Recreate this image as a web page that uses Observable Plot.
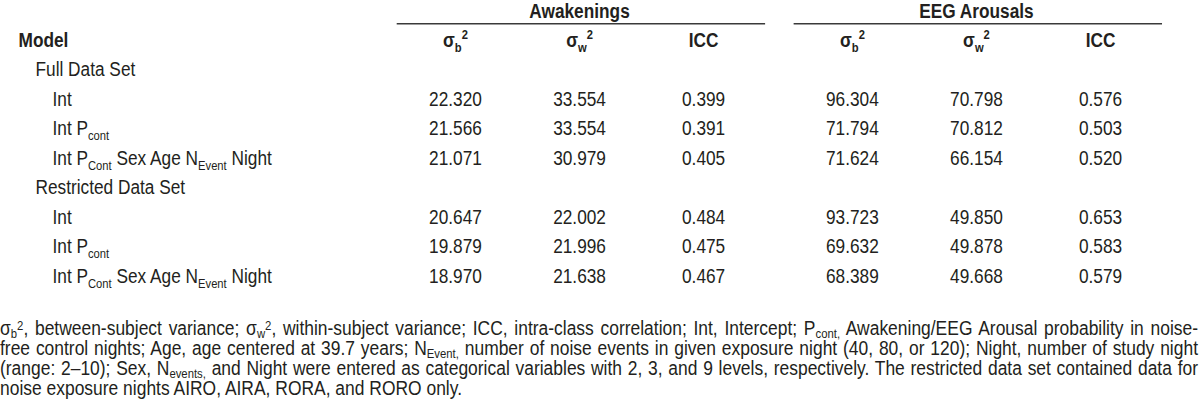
<!DOCTYPE html>
<html><head><meta charset="utf-8">
<script src="https://cdn.jsdelivr.net/npm/d3@7"></script>
<script src="https://cdn.jsdelivr.net/npm/@observablehq/plot@0.6"></script>
<style>
html,body{margin:0;padding:0;background:#fff;}
body{width:1200px;height:414px;position:relative;overflow:hidden;font-family:'Liberation Sans Narrow','Arial Narrow','Liberation Sans',Arial,sans-serif;color:#231f20;}
#chart{position:absolute;left:0;top:0;}
#note{position:absolute;left:0;top:318px;font-size:19.6px;line-height:20px;transform-origin:0 0;}
#note .ln{text-align:justify;text-align-last:justify;}
#note .ln.last{text-align-last:left;}
#note sub{font-size:65%;line-height:0;vertical-align:baseline;position:relative;top:0.2em;}
#note sup{font-size:65%;line-height:0;vertical-align:baseline;position:relative;top:-0.42em;}
</style></head><body>
<div id="chart"></div>
<div id="note"></div>
<script>
// ---- data ----
const groups = ["Awakenings", "EEG Arousals"];
const measures = ["σ_{b}^{2}", "σ_{w}^{2}", "ICC"];
const headLabel = "Model";
const sections = ["Full Data Set", "Restricted Data Set"];
const models = ["Int", "Int P_{cont}", "Int P_{Cont} Sex Age N_{Event} Night"];
const awakSigmaB = [22.320, 21.566, 21.071, 20.647, 19.879, 18.970];
const awakSigmaW = [33.554, 33.554, 30.979, 22.002, 21.996, 21.638];
const awakICC    = [0.399, 0.391, 0.405, 0.484, 0.475, 0.467];
const eegSigmaB  = [96.304, 71.794, 71.624, 93.723, 69.632, 68.389];
const eegSigmaW  = [70.798, 70.812, 66.154, 49.850, 49.878, 49.668];
const eegICC     = [0.576, 0.503, 0.520, 0.653, 0.583, 0.579];
const noteLines = [
  "σ_{b}^{2}, between-subject variance; σ_{w}^{2}, within-subject variance; ICC, intra-class correlation; Int, Intercept; P_{cont,} Awakening/EEG Arousal probability in noise-",
  "free control nights; Age, age centered at 39.7 years; N_{Event,} number of noise events in given exposure night (40, 80, or 120); Night, number of study night",
  "(range: 2–10); Sex, N_{events,} and Night were entered as categorical variables with 2, 3, and 9 levels, respectively. The restricted data set contained data for",
  "noise exposure nights AIRO, AIRA, RORA, and RORO only."
];

// ---- layout / style ----
const FONT = "'Liberation Sans Narrow','Arial Narrow','Liberation Sans',Arial,sans-serif";
const FS = 19.4;
const NARROW = 0.89;       // horizontal condensing of the sans face
const INK = "#231f20";
const GROUP_STEP = 3.2;
const NOTE_W = 1198;

const fmt = d3.format(".3f");
const series = [awakSigmaB, awakSigmaW, awakICC, eegSigmaB, eegSigmaW, eegICC];
const cells = [];
series.forEach((vals, j) => {
  const g = Math.floor(j / 3), k = j % 3;
  vals.forEach((v, i) => {
    const s = Math.floor(i / 3), m = i % 3;
    cells.push({col: g * GROUP_STEP + k, row: 2 + s * 4 + m, label: fmt(v)});
  });
});
const colHeads = [];
groups.forEach((g, gi) => measures.forEach((ms, k) => colHeads.push({col: gi * GROUP_STEP + k, row: 0, label: ms})));
const groupHeads = groups.map((g, gi) => ({col: gi * GROUP_STEP + 1, row: -0.97, label: g}));
const rules = groups.map((g, gi) => ({x1: gi * GROUP_STEP - 0.47, x2: gi * GROUP_STEP + 2.5, y: -0.57}));
const sectionRows = sections.map((s, si) => ({row: 1 + si * 4, label: s}));
const modelRows = [];
sections.forEach((s, si) => models.forEach((m, mi) => modelRows.push({row: 2 + si * 4 + mi, label: m})));

const common = {fontSize: FS, fill: INK};
const svg = Plot.plot({
  width: 1200, height: 300,
  marginLeft: 0, marginRight: 0, marginTop: 0, marginBottom: 0,
  x: {domain: [0, 2 + GROUP_STEP], range: [455, 1100], axis: null},
  y: {domain: [0, 8], range: [40, 276], axis: null},
  style: {fontFamily: FONT, background: "white", color: INK},
  marks: [
    Plot.ruleY(rules, {y: "y", x1: "x1", x2: "x2", stroke: "#3a3a3a", strokeWidth: 1.6}),
    Plot.text(groupHeads, {x: "col", y: "row", text: "label", fontWeight: "bold", ...common}),
    Plot.text(colHeads, {x: "col", y: "row", text: "label", fontWeight: "bold", ...common}),
    Plot.text([{row: 0, label: headLabel}], {y: "row", text: "label", frameAnchor: "left", textAnchor: "start", dx: 18, fontWeight: "bold", ...common}),
    Plot.text(sectionRows, {y: "row", text: "label", frameAnchor: "left", textAnchor: "start", dx: 35, ...common}),
    Plot.text(modelRows, {y: "row", text: "label", frameAnchor: "left", textAnchor: "start", dx: 52, ...common}),
    Plot.text(cells, {x: "col", y: "row", text: "label", ...common})
  ]
});

function parseMarkup(str) {
  const parts = []; const re = /([_^])\{([^}]*)\}/g; let last = 0, m;
  while ((m = re.exec(str))) {
    if (m.index > last) parts.push({t: str.slice(last, m.index), k: "n"});
    parts.push({t: m[2], k: m[1] === "_" ? "sub" : "sup"});
    last = re.lastIndex;
  }
  if (last < str.length) parts.push({t: str.slice(last), k: "n"});
  return parts;
}
svg.querySelectorAll("text").forEach(t => {
  // condense horizontally around each text's own anchor
  const tr = t.getAttribute("transform");
  if (tr) t.setAttribute("transform", tr + ` scale(${NARROW},1)`);
  else {
    const x = +t.getAttribute("x") || 0, y = +t.getAttribute("y") || 0;
    t.removeAttribute("x"); t.removeAttribute("y");
    t.setAttribute("transform", `translate(${x},${y}) scale(${NARROW},1)`);
  }
  const s = t.textContent;
  if (!/[_^]\{/.test(s)) return;
  const parts = parseMarkup(s);
  while (t.firstChild) t.removeChild(t.firstChild);
  let cur = 0;
  parts.forEach(p => {
    const ts = document.createElementNS("http://www.w3.org/2000/svg", "tspan");
    const want = p.k === "sub" ? FS * 0.26 : p.k === "sup" ? -FS * 0.4 : 0;
    if (want !== cur) ts.setAttribute("dy", (want - cur).toFixed(2));
    cur = want;
    if (p.k !== "n") ts.setAttribute("font-size", (FS * 0.65).toFixed(2));
    ts.textContent = p.t;
    t.appendChild(ts);
  });
});
document.getElementById("chart").appendChild(svg);

// ---- footnote ----
const note = document.getElementById("note");
const innerW = NOTE_W / NARROW;
note.style.width = innerW + "px";
note.style.transform = `scaleX(${NARROW})`;
const toHTML = s => parseMarkup(s).map(p => p.k === "n" ? p.t : `<${p.k}>${p.t}</${p.k}>`).join("");
noteLines.forEach((l, i) => {
  const d = document.createElement("div");
  d.className = "ln" + (i === noteLines.length - 1 ? " last" : "");
  d.innerHTML = toHTML(l);
  note.appendChild(d);
});
// fit the longest justified line in the available width
let maxW = 0;
note.querySelectorAll(".ln").forEach(d => {
  const sp = document.createElement("span");
  sp.style.whiteSpace = "nowrap";
  sp.innerHTML = d.innerHTML;
  note.appendChild(sp);
  maxW = Math.max(maxW, sp.getBoundingClientRect().width / NARROW);
  note.removeChild(sp);
});
const base = 19.6;
if (maxW > innerW - 6) note.style.fontSize = (base * (innerW - 6) / maxW).toFixed(2) + "px";
</script></body></html>
